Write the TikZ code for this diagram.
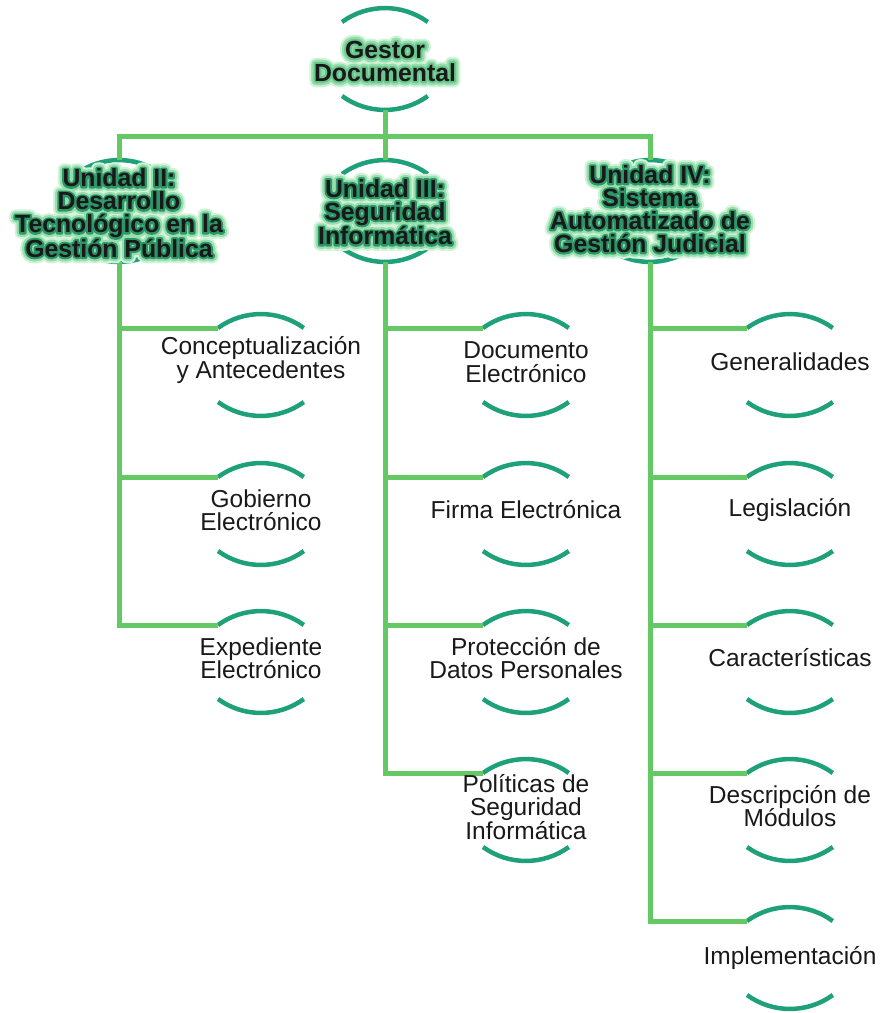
\documentclass[tikz,border=0pt]{standalone}
\usepackage{fontspec}
\setmainfont{Liberation Sans}
\newfontfamily\glowinfont[FakeBold=16]{Liberation Sans Bold}
\newfontfamily\glowoutfont[FakeBold=34]{Liberation Sans Bold}
\newfontfamily\glowhalofont[FakeBold=50]{Liberation Sans Bold}
\definecolor{arcgreen}{RGB}{30,160,120}
\definecolor{conngreen}{RGB}{100,200,100}
\definecolor{glowhalo}{RGB}{210,242,218}
\definecolor{glowouter}{RGB}{150,222,172}
\definecolor{glowteal}{RGB}{45,150,105}
\definecolor{glowlight}{RGB}{105,198,140}
\definecolor{inktext}{RGB}{25,25,25}
\tikzset{
  arcline/.style={draw=arcgreen,line width=4.5pt},
  conn/.style={draw=conngreen,line width=5pt},
  leaftext/.style={align=center,text=inktext,inner sep=0pt,font=\fontsize{24.5}{23.5}\selectfont},
  titletext/.style={align=center,inner sep=0pt,font=\bfseries\fontsize{24.8}{23}\selectfont},
  glowbase/.style={align=center,inner sep=0pt,line join=round,line cap=round},
  glowhalo/.style={glowbase,text=glowhalo,font=\glowhalofont\fontsize{24.8}{23}\selectfont},
  glowout/.style={glowbase,text=glowouter,font=\glowoutfont\fontsize{24.8}{23}\selectfont},
  glowin/.style={glowbase,font=\glowinfont\fontsize{24.8}{23}\selectfont}
}
\newcommand{\nodearcs}[3]{%
  \draw[arcline] (#2-43,-#3+37) arc[start angle=126,end angle=54,radius=73];
  \draw[arcline] (#2-43,-#3-37) arc[start angle=234,end angle=306,radius=73];
  \coordinate (#1-top) at (#2,-#3+51);
  \coordinate (#1-bot) at (#2,-#3-51);
  \coordinate (#1-in) at (#2-43,-#3+37);
}
\newcommand{\glownode}[5]{%
  \begin{scope}[line join=round,line cap=round]
  \node[glowhalo] (#1-h) at (#2,#3) {#4};
  \node[glowout] (#1-o) at (#2,#3) {#4};
  \node[glowin,text=#5] (#1-i) at (#2,#3) {#4};
  \end{scope}
  \node[titletext,text=inktext] (#1) at (#2,#3) {#4};
}
\begin{document}
\begin{tikzpicture}[x=1pt,y=1pt]
\useasboundingbox (0,0) rectangle (886,-1013);
% arcs of all nodes
\nodearcs{root}{385}{59}
\nodearcs{u2}{119}{211}
\nodearcs{u3}{385}{211}
\nodearcs{u4}{650}{211}
\nodearcs{c11}{261}{365}
\nodearcs{c12}{261}{514}
\nodearcs{c13}{261}{662}
\nodearcs{c21}{526}{365}
\nodearcs{c22}{526}{514}
\nodearcs{c23}{526}{662}
\nodearcs{c24}{526}{810}
\nodearcs{c31}{790}{365}
\nodearcs{c32}{790}{514}
\nodearcs{c33}{790}{662}
\nodearcs{c34}{790}{810}
\nodearcs{c35}{790}{958}
\coordinate (bus) at (385,-136);
% connectors
\draw[conn] (root-bot) -- (u3-top);
\draw[conn] (u2-top) -- (u2-top |- bus) -- (u4-top |- bus) -- (u4-top);
\draw[conn] (u2-bot) |- (c13-in);
\draw[conn] (u2-bot |- c11-in) -- (c11-in);
\draw[conn] (u2-bot |- c12-in) -- (c12-in);
\draw[conn] (u3-bot) |- (c24-in);
\draw[conn] (u3-bot |- c21-in) -- (c21-in);
\draw[conn] (u3-bot |- c22-in) -- (c22-in);
\draw[conn] (u3-bot |- c23-in) -- (c23-in);
\draw[conn] (u4-bot) |- (c35-in);
\draw[conn] (u4-bot |- c31-in) -- (c31-in);
\draw[conn] (u4-bot |- c32-in) -- (c32-in);
\draw[conn] (u4-bot |- c33-in) -- (c33-in);
\draw[conn] (u4-bot |- c34-in) -- (c34-in);
% title texts with glow
\glownode{rootT}{385}{-61}{Gestor\\Documental}{glowlight}
\glownode{u2T}{119}{-213}{Unidad II:\\Desarrollo\\Tecnológico en la\\Gestión Pública}{glowteal}
\glownode{u3T}{385}{-212}{Unidad III:\\Seguridad\\Informática}{glowteal}
\glownode{u4T}{650}{-209}{Unidad IV:\\Sistema\\Automatizado de\\Gestión Judicial}{glowteal}
% leaf texts
\node[leaftext] (t11) at (261,-360) {Conceptualización\\y Antecedentes};
\node[leaftext] (t12) at (261,-510) {Gobierno\\Electrónico};
\node[leaftext] (t13) at (261,-658) {Expediente\\Electrónico};
\node[leaftext] (t21) at (526,-362) {Documento\\Electrónico};
\node[leaftext] (t22) at (526,-510) {Firma Electrónica};
\node[leaftext] (t23) at (526,-658) {Protección de\\Datos Personales};
\node[leaftext] (t24) at (526,-807) {Políticas de\\Seguridad\\Informática};
\node[leaftext] (t31) at (790,-362) {Generalidades};
\node[leaftext] (t32) at (790,-510) {Legislación};
\node[leaftext] (t33) at (790,-658) {Características};
\node[leaftext] (t34) at (790,-806) {Descripción de\\Módulos};
\node[leaftext] (t35) at (790,-958) {Implementación};
\end{tikzpicture}
\end{document}
